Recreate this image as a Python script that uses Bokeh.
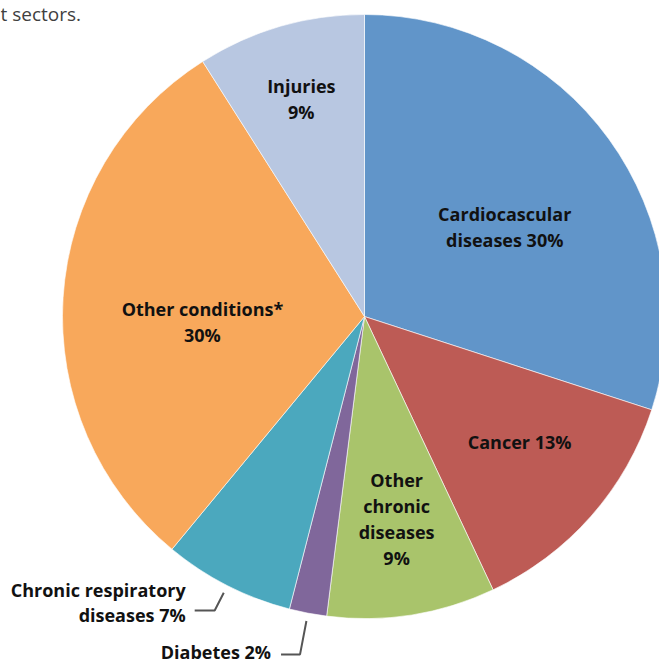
import math
from bokeh.plotting import figure
from bokeh.models import Range1d, ColumnDataSource
from bokeh.core.properties import value
from bokeh.embed import file_html
from bokeh.resources import INLINE

# ---- data ----
categories = ["Cardiocascular diseases", "Cancer", "Other chronic diseases", "Diabetes",
              "Chronic respiratory diseases", "Other conditions*", "Injuries"]
shares = [30, 13, 9, 2, 7, 30, 9]
label_lines = [["Cardiocascular", "diseases 30%"], ["Cancer 13%"],
               ["Other", "chronic", "diseases", "9%"], ["Diabetes 2%"],
               ["Chronic respiratory", "diseases 7%"], ["Other conditions*", "30%"],
               ["Injuries", "9%"]]
colors = ["#6195C9", "#BD5B55", "#A9C46B", "#80679B", "#4BA8BE", "#F8A85B", "#B8C7E1"]
caption = "t sectors."

# ---- layout ----
W, H = 659, 665
cx, cy = 364, H - 316          # pie centre in data units (1 unit = 1 px)
R = 302
inside_frac = [0.55, 0.66, 0.68, None, None, 0.537, 0.75]
angle_shift = [-3.6, 2.5, 0.0, 0.0, 0.0, 5.7, 0.0]   # degrees
line_gap = 26
FONT = "Open Sans"
FS = "18px"

p = figure(width=W, height=H, output_backend="svg", toolbar_location=None,
           x_range=Range1d(0, W), y_range=Range1d(0, H),
           x_axis_type=None, y_axis_type=None, min_border=0)
p.grid.visible = False
p.outline_line_color = None
p.background_fill_color = "white"

total = float(sum(shares))
starts, ends, mids = [], [], []
cum = 0.0
for s in shares:
    a0 = math.pi / 2 - 2 * math.pi * (cum + s) / total
    a1 = math.pi / 2 - 2 * math.pi * cum / total
    starts.append(a0); ends.append(a1); mids.append((a0 + a1) / 2)
    cum += s

src = ColumnDataSource(dict(x=[cx] * len(shares), y=[cy] * len(shares),
                            start=starts, end=ends, color=colors))
p.wedge(x="x", y="y", radius=R, radius_units="screen", start_angle="start",
        end_angle="end", fill_color="color", line_color="white", line_width=0.6,
        source=src)

# inside labels
tx, ty, tt = [], [], []
for i, lines in enumerate(label_lines):
    f = inside_frac[i]
    if f is None:
        continue
    a = mids[i] + math.radians(angle_shift[i])
    mx = cx + f * R * math.cos(a)
    my = cy + f * R * math.sin(a)
    n = len(lines)
    for k, ln in enumerate(lines):
        tx.append(mx)
        ty.append(my + ((n - 1) / 2 - k) * line_gap)
        tt.append(ln)
p.text(x=tx, y=ty, text=tt, text_align="center", text_baseline="middle",
       text_font=value(FONT), text_font_style="bold", text_font_size=FS,
       text_color="#111111")

# outside labels with leader lines
def leader(i, r1, r2, dx):
    a = mids[i]
    x1, y1 = cx + r1 * math.cos(a), cy + r1 * math.sin(a)
    x2, y2 = cx + r2 * math.cos(a), cy + r2 * math.sin(a)
    return [x1, x2, x2 + dx], [y1, y2, y2]

lx, ly = leader(4, R + 8, R + 28, -20)
p.line(lx, ly, line_color="#555555", line_width=2)
resp = label_lines[4]
p.text(x=[lx[-1] - 9] * 2, y=[ly[-1] - 4 + 25, ly[-1] - 4], text=resp,
       text_align="right", text_baseline="middle", text_font=value(FONT),
       text_font_style="bold", text_font_size=FS, text_color="#111111")

dx_, dy_ = leader(3, R + 8, R + 42, -19)
p.line(dx_, dy_, line_color="#555555", line_width=2)
p.text(x=[dx_[-1] - 10], y=[dy_[-1] + 2], text=label_lines[3],
       text_align="right", text_baseline="middle", text_font=value(FONT),
       text_font_style="bold", text_font_size=FS, text_color="#111111")

# cropped caption at top-left
p.text(x=[0], y=[H - 13], text=[caption], text_align="left", text_baseline="middle",
       text_font=value(FONT), text_font_size="19px", text_color="#404040")

open("out.html", "w").write(file_html(p, INLINE))
